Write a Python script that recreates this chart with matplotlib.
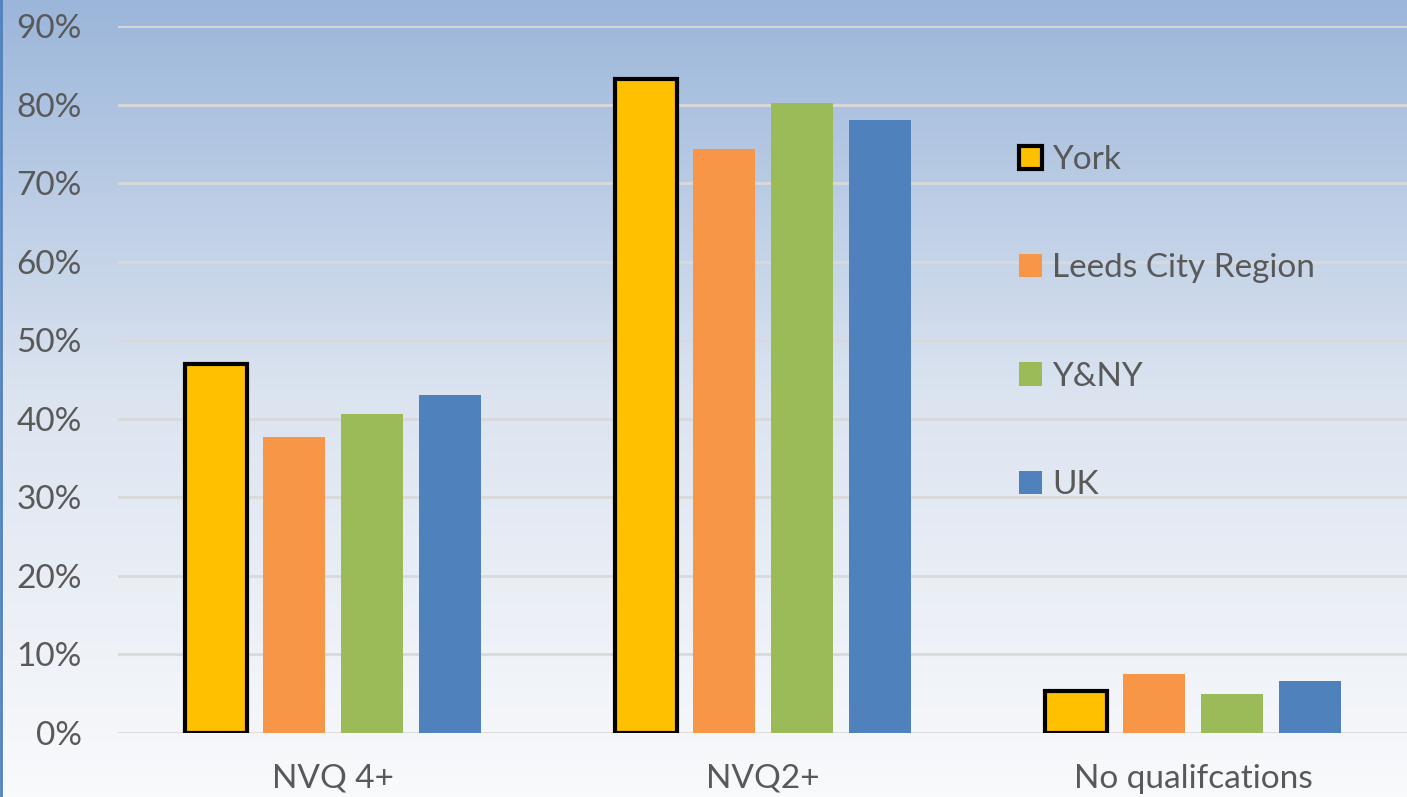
import numpy as np
import matplotlib
matplotlib.use('Agg')
import matplotlib.pyplot as plt
from matplotlib.colors import LinearSegmentedColormap

categories = ['NVQ 4+', 'NVQ2+', 'No qualifcations']
series = ['York', 'Leeds City Region', 'Y&NY', 'UK']
york = [0.47, 0.833, 0.053]
leeds = [0.377, 0.744, 0.075]
yny = [0.406, 0.802, 0.050]
uk = [0.430, 0.780, 0.066]
y_ticks = [0, 0.1, 0.2, 0.3, 0.4, 0.5, 0.6, 0.7, 0.8, 0.9]

colors = ['#FFC000', '#F79646', '#9BBB59', '#4F81BD']
text_col = '#595959'

plt.rcParams['font.family'] = ['Lato', 'DejaVu Sans']

fig = plt.figure(figsize=(14.07, 7.97), dpi=100)

# gradient background
bg = fig.add_axes([0, 0, 1, 1])
cmap = LinearSegmentedColormap.from_list('bg', ['#F9FAFC', '#DCE4F0', '#9BB6DA'])
grad = np.linspace(0, 1, 256).reshape(-1, 1)
bg.imshow(grad, aspect='auto', cmap=cmap, extent=[0, 1, 0, 1], origin='lower')
bg.plot([0.0008, 0.0008], [0, 1], color='#4F81BD', lw=2)
bg.set_xlim(0, 1)
bg.set_ylim(0, 1)
bg.axis('off')

ax = fig.add_axes([118 / 1407, 64 / 797, 1290 / 1407, 707 / 797])
ax.set_facecolor('none')

x = np.arange(len(categories))
pitch = 0.181
width = 0.144
data = [york, leeds, yny, uk]
for i, (name, vals) in enumerate(zip(series, data)):
    pos = x + (i - 1.5) * pitch
    if i == 0:
        ax.bar(pos, vals, width, color=colors[i], edgecolor='black', linewidth=3, label=name, zorder=3)
    else:
        ax.bar(pos, vals, width, color=colors[i], label=name, zorder=3)

ax.set_xlim(-0.5, 2.5)
ax.set_ylim(0, 0.9)
ax.set_yticks(y_ticks)
ax.set_yticklabels(['{:.0f}%'.format(v * 100) for v in y_ticks])
ax.set_xticks(x)
ax.set_xticklabels(categories)
ax.tick_params(axis='both', length=0, labelsize=24, colors=text_col)
ax.tick_params(axis='y', pad=26)
ax.tick_params(axis='x', pad=22)
ax.yaxis.grid(True, color='#D9D9D9', linewidth=2, zorder=0)
ax.set_axisbelow(True)
for s in ax.spines.values():
    s.set_visible(False)

leg = ax.legend(loc='upper left', bbox_to_anchor=(989 / 1407, 1 - 115 / 797), bbox_transform=fig.transFigure,
                frameon=False, fontsize=24, labelcolor=text_col, handlelength=0.7, handleheight=0.7,
                handletextpad=0.3, labelspacing=2.35)

fig.savefig('out.png', dpi=100)
